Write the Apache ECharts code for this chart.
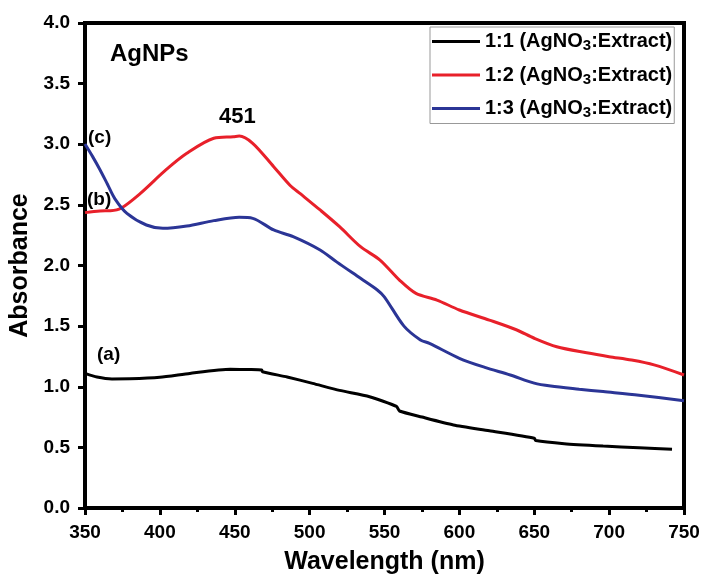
<!DOCTYPE html>
<html>
<head>
<meta charset="utf-8">
<script src="https://cdn.jsdelivr.net/npm/echarts@6/dist/echarts.min.js"></script>
<style>
  html, body { margin: 0; padding: 0; background: #fff; }
  #chart { width: 704px; height: 575px; }
</style>
</head>
<body>
<div id="chart"></div>
<script>
// series names as in the legend
var seriesNames = ['1:1 (AgNO3:Extract)', '1:2 (AgNO3:Extract)', '1:3 (AgNO3:Extract)'];

// (a) 1:1  - wavelength (nm) / absorbance
var wlA = [350, 358, 368, 380, 400, 420, 447, 460, 468, 468.5, 485, 502, 520, 540, 558, 560, 575, 596, 620, 650, 651, 670, 696, 720, 742];
var absA = [1.11, 1.08, 1.064, 1.065, 1.078, 1.11, 1.144, 1.142, 1.138, 1.124, 1.08, 1.028, 0.97, 0.918, 0.838, 0.80, 0.75, 0.685, 0.637, 0.575, 0.556, 0.530, 0.511, 0.497, 0.484];

// (b) 1:2
var wlB = [350, 360, 367, 374, 387, 404, 418, 436, 449, 453, 462, 476, 487, 494, 507, 520, 534, 547, 560, 571, 585, 600, 620, 638, 650, 665, 685, 700, 715, 730, 750];
var absB = [2.436, 2.45, 2.452, 2.472, 2.595, 2.788, 2.925, 3.049, 3.062, 3.068, 3.008, 2.815, 2.66, 2.59, 2.458, 2.32, 2.155, 2.045, 1.88, 1.77, 1.715, 1.633, 1.55, 1.47, 1.40, 1.33, 1.28, 1.248, 1.22, 1.18, 1.097];

// (c) 1:3
var wlC = [350, 355, 360, 365, 370, 378, 391, 402, 418, 436, 453, 462, 476, 489, 507, 518, 534, 545, 550, 563, 574, 580, 600, 617, 634, 650, 661, 680, 696, 720, 750];
var absC = [3.002, 2.90, 2.79, 2.67, 2.55, 2.43, 2.334, 2.307, 2.326, 2.37, 2.397, 2.389, 2.293, 2.238, 2.128, 2.03, 1.894, 1.80, 1.74, 1.50, 1.386, 1.358, 1.235, 1.16, 1.097, 1.03, 1.006, 0.98, 0.96, 0.93, 0.885];

var colors = ['#000000', '#e8202a', '#2b3596'];

function pairs(xs, ys) {
  var out = [];
  for (var i = 0; i < xs.length; i++) out.push([xs[i], ys[i]]);
  return out;
}

var chart = echarts.init(document.getElementById('chart'));
var font = 'Liberation Sans, Arial, sans-serif';

chart.setOption({
  animation: false,
  grid: {
    left: 85, right: 20, top: 23, bottom: 67,
    outerBoundsMode: 'none', containLabel: false,
    show: true, borderColor: '#000', borderWidth: 4
  },
  legend: {
    orient: 'vertical',
    left: 430, top: 27,
    padding: [3, 2, 3, 2],
    itemGap: 10,
    itemWidth: 48, itemHeight: 3,
    icon: 'rect',
    borderColor: '#999', borderWidth: 1,
    data: seriesNames,
    formatter: function (name) {
      return name.replace('AgNO3', 'AgNO{sub|3}');
    },
    textStyle: {
      fontFamily: font, fontWeight: 'bold', fontSize: 20, color: '#000', lineHeight: 23,
      rich: {
        sub: { fontFamily: font, fontWeight: 'bold', fontSize: 15, color: '#000', padding: [9, 0, 0, 0] }
      }
    }
  },
  xAxis: {
    type: 'value', min: 350, max: 750, interval: 50,
    name: 'Wavelength (nm)', nameLocation: 'middle', nameGap: 42,
    nameTextStyle: { fontFamily: font, fontWeight: 'bold', fontSize: 25, color: '#000' },
    axisLine: { lineStyle: { color: '#000', width: 4 } },
    axisTick: { inside: false, length: 7, lineStyle: { color: '#000', width: 3 } },
    minorTick: { show: true, splitNumber: 2, length: 4, lineStyle: { color: '#000', width: 3 } },
    axisLabel: { margin: 15, fontFamily: font, fontWeight: 'bold', fontSize: 19, color: '#000' },
    splitLine: { show: false }
  },
  yAxis: {
    type: 'value', min: 0, max: 4, interval: 0.5,
    name: 'Absorbance', nameLocation: 'middle', nameGap: 43,
    nameTextStyle: { fontFamily: font, fontWeight: 'bold', fontSize: 25, color: '#000' },
    axisLine: { show: true, lineStyle: { color: '#000', width: 4 } },
    axisTick: { show: true, inside: false, length: 7, lineStyle: { color: '#000', width: 3 } },
    axisLabel: {
      margin: 15, fontFamily: font, fontWeight: 'bold', fontSize: 19, color: '#000',
      formatter: function (v) { return v.toFixed(1); }
    },
    splitLine: { show: false }
  },
  graphic: [
    { type: 'text', left: 110, top: 42, style: { text: 'AgNPs', font: 'bold 24px ' + font, fill: '#000' } },
    { type: 'text', left: 219, top: 106, style: { text: '451', font: 'bold 22px ' + font, fill: '#000' } },
    { type: 'text', left: 88, top: 128, style: { text: '(c)', font: 'bold 19px ' + font, fill: '#000' } },
    { type: 'text', left: 87, top: 190, style: { text: '(b)', font: 'bold 19px ' + font, fill: '#000' } },
    { type: 'text', left: 97, top: 345, style: { text: '(a)', font: 'bold 19px ' + font, fill: '#000' } }
  ],
  series: [
    { name: seriesNames[0], type: 'line', data: pairs(wlA, absA), showSymbol: false, smooth: 0.2,
      lineStyle: { color: colors[0], width: 3 }, itemStyle: { color: colors[0] } },
    { name: seriesNames[1], type: 'line', data: pairs(wlB, absB), showSymbol: false, smooth: 0.3,
      lineStyle: { color: colors[1], width: 3 }, itemStyle: { color: colors[1] } },
    { name: seriesNames[2], type: 'line', data: pairs(wlC, absC), showSymbol: false, smooth: 0.3,
      lineStyle: { color: colors[2], width: 3 }, itemStyle: { color: colors[2] } }
  ]
});
</script>
</body>
</html>
